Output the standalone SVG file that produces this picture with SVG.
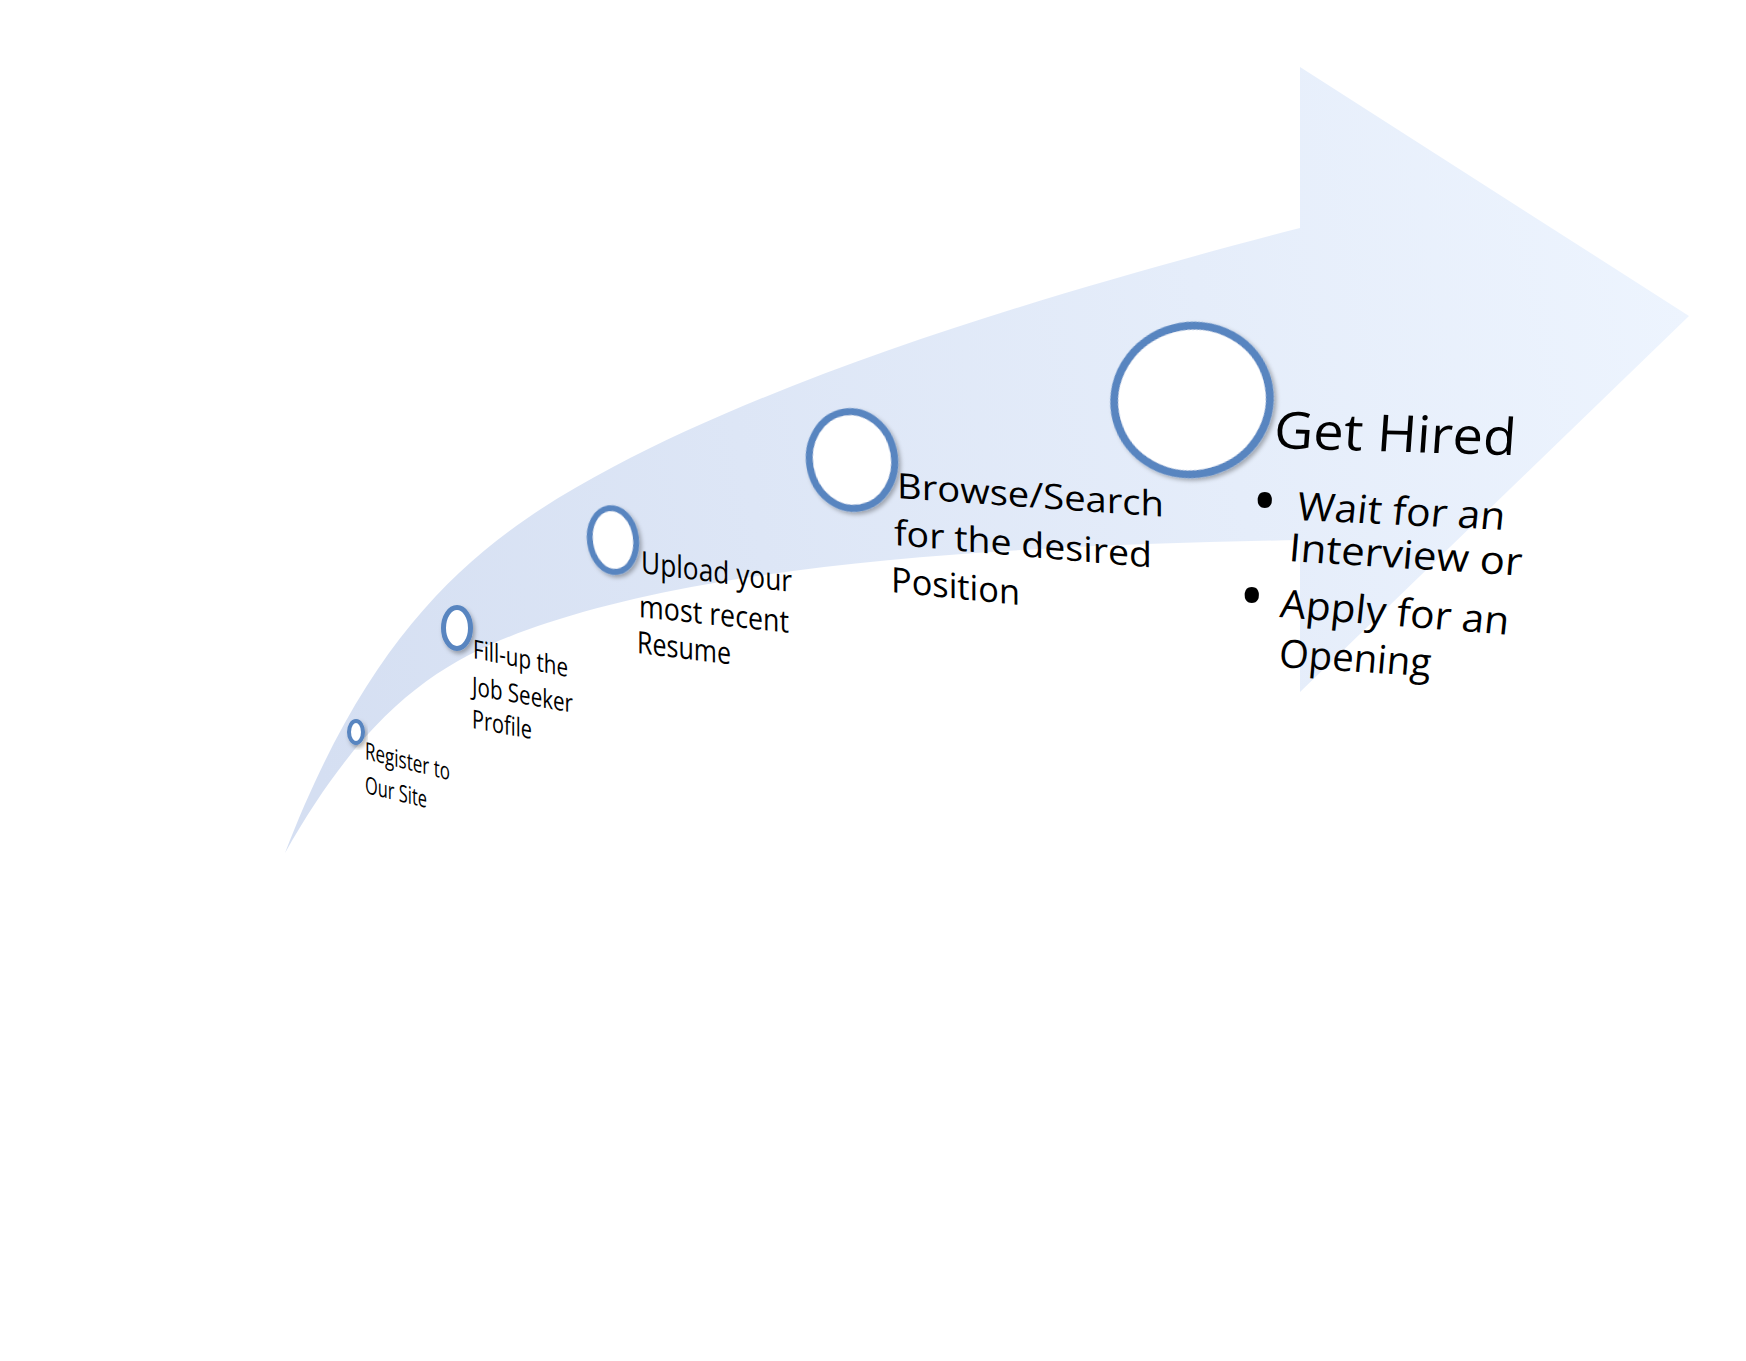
<svg xmlns="http://www.w3.org/2000/svg" width="1746" height="1361" viewBox="0 0 1746 1361">
<defs>
<linearGradient id="arrowGrad" gradientUnits="userSpaceOnUse" x1="283" y1="600" x2="1689" y2="300">
<stop offset="0" stop-color="#d5dff2"/>
<stop offset="1" stop-color="#edf4fe"/>
</linearGradient>
<filter id="shadow" x="-30%" y="-30%" width="160%" height="160%">
<feDropShadow dx="2" dy="3" stdDeviation="2" flood-color="#000" flood-opacity="0.3"/>
</filter>
</defs>
<style>
.ring{fill:#ffffff;stroke:#5885c0;filter:url(#shadow)}
.lbl{font-family:"Open Sans","Noto Sans","Liberation Sans",sans-serif;fill:#000000}
</style>
<rect width="1746" height="1361" fill="#ffffff"/>
<g id="connectors">
<path id="arrow" fill="url(#arrowGrad)" d="M285,853 C375,619 483,536 613,467 C813,361 1100,280 1300,228 L1300,67 L1689,316 L1300,692 L1300,540 C1050,545 747,557 547,623 C457,653 375,693 285,853 Z"/>
</g>
<g id="node1">
<ellipse class="ring" cx="356" cy="732" rx="7" ry="11" stroke-width="4"/>
<text class="lbl" font-size="24" transform="translate(365 759) skewY(14)" textLength="85" lengthAdjust="spacingAndGlyphs">Register to</text>
<text class="lbl" font-size="24" transform="translate(365 793) skewY(13.6)" textLength="62" lengthAdjust="spacingAndGlyphs">Our Site</text>
</g>
<g id="node2">
<ellipse class="ring" cx="457" cy="628" rx="13.5" ry="20.5" stroke-width="5"/>
<text class="lbl" font-size="26" transform="translate(473 658) skewY(11.3)" textLength="95" lengthAdjust="spacingAndGlyphs">Fill-up the</text>
<text class="lbl" font-size="26" transform="translate(472 695) skewY(10)" textLength="101" lengthAdjust="spacingAndGlyphs">Job Seeker</text>
<text class="lbl" font-size="26" transform="translate(472 728) skewY(10.5)" textLength="60" lengthAdjust="spacingAndGlyphs">Profile</text>
</g>
<g id="node3">
<ellipse class="ring" cx="613" cy="540" rx="23" ry="32" stroke-width="6" transform="rotate(-8 613 540)"/>
<text class="lbl" font-size="31" transform="translate(641 573) skewY(7.2)" textLength="151" lengthAdjust="spacingAndGlyphs">Upload your</text>
<text class="lbl" font-size="31" transform="translate(639 617) skewY(6)" textLength="150" lengthAdjust="spacingAndGlyphs">most recent</text>
<text class="lbl" font-size="31" transform="translate(637 653) skewY(7)" textLength="94" lengthAdjust="spacingAndGlyphs">Resume</text>
</g>
<g id="node4">
<ellipse class="ring" cx="852" cy="460" rx="42.5" ry="48.5" stroke-width="7" transform="rotate(-10 852 460)"/>
<text class="lbl" font-size="35" transform="translate(897 498) skewY(4)" textLength="267" lengthAdjust="spacingAndGlyphs">Browse/Search</text>
<text class="lbl" font-size="35" transform="translate(894 545) skewY(5)" textLength="258" lengthAdjust="spacingAndGlyphs">for the desired</text>
<text class="lbl" font-size="35" transform="translate(891 592) skewY(5.8)" textLength="129" lengthAdjust="spacingAndGlyphs">Position</text>
</g>
<g id="node5">
<ellipse class="ring" cx="1192" cy="400" rx="78" ry="74" stroke-width="8" transform="rotate(-15 1192 400)"/>
<text class="lbl" font-size="51" transform="translate(1273 448) skewY(1.7) skewX(-4)" textLength="242" lengthAdjust="spacingAndGlyphs">Get Hired</text>
<text class="lbl" font-size="68" transform="translate(1252 524.5)">•</text>
<text class="lbl" font-size="39" transform="translate(1296 520) skewY(2.7) skewX(-6)" textLength="208" lengthAdjust="spacingAndGlyphs">Wait for an</text>
<text class="lbl" font-size="39" transform="translate(1288 561) skewY(3.6) skewX(-5)" textLength="233" lengthAdjust="spacingAndGlyphs">Interview or</text>
<text class="lbl" font-size="68" transform="translate(1239 619.5)">•</text>
<text class="lbl" font-size="39" transform="translate(1279 617) skewY(4.4) skewX(-6)" textLength="229" lengthAdjust="spacingAndGlyphs">Apply for an</text>
<text class="lbl" font-size="39" transform="translate(1278 667) skewY(3.5) skewX(-5)" textLength="152" lengthAdjust="spacingAndGlyphs">Opening</text>
</g>
</svg>
